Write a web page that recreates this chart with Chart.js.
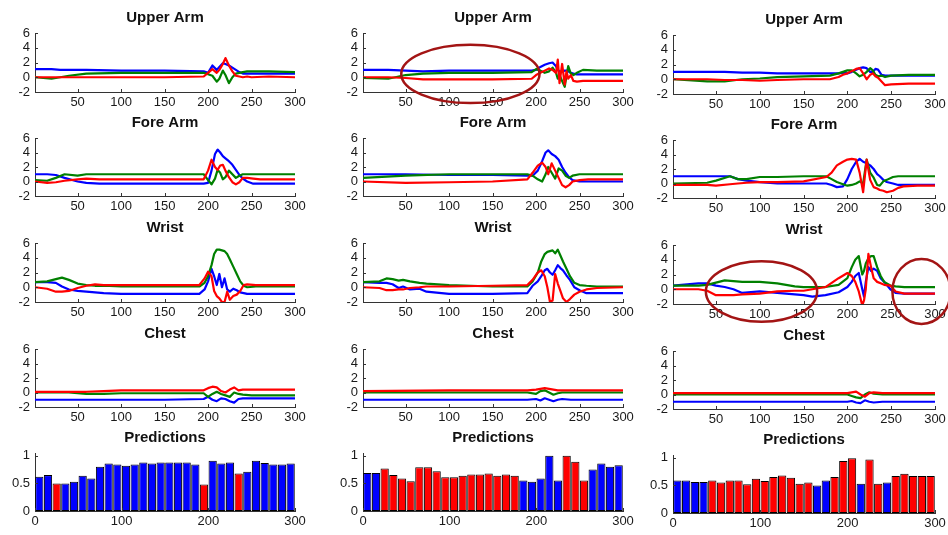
<!DOCTYPE html>
<html>
<head>
<meta charset="utf-8">
<script src="https://cdn.jsdelivr.net/npm/chart.js@4.4.0/dist/chart.umd.min.js"></script>
<style>
  html, body { margin: 0; padding: 0; background: #fff; overflow: hidden; }
  #fig { position: relative; width: 948px; height: 535px; }
  #fig canvas { position: absolute; }
</style>
</head>
<body>
<div id="fig"></div>
<script>
// ---- sensor traces: x = sample index, b/g/r = the three channels ----
// column 1
const ua1X = [1, 20, 30, 40, 60, 100, 150, 195, 200, 205, 210, 213, 217, 220, 224, 228, 232, 236, 240, 245, 250, 270, 300];
const ua1B = [1.1, 1.1, 1.0, 1.0, 1.0, 0.9, 0.9, 0.8, 0.6, 1.6, 1.0, 1.4, 1.9, 1.8, 1.6, 1.3, 1.0, 0.7, 0.5, 0.5, 0.5, 0.5, 0.5];
const ua1G = [0.0, -0.2, 0.0, 0.2, 0.5, 0.6, 0.6, 0.6, 0.4, 0.2, -0.6, -0.2, 0.9, 0.3, -0.8, 0.0, 0.5, 0.6, 0.7, 0.8, 0.8, 0.8, 0.7];
const ua1R = [0.0, 0.0, 0.0, 0.0, 0.0, 0.0, 0.0, 0.1, 0.6, 1.1, 0.6, 1.0, 1.8, 2.6, 1.6, 0.8, 0.2, 0.1, 0.0, 0.1, 0.0, 0.1, 0.0];

const fa1X = [1, 15, 25, 35, 50, 60, 75, 100, 150, 195, 200, 204, 208, 211, 214, 217, 220, 224, 228, 232, 236, 240, 245, 252, 260, 300];
const fa1B = [1.0, 1.0, 0.9, 0.5, 0.0, -0.2, -0.3, -0.3, -0.3, -0.3, -0.2, 1.5, 3.8, 4.4, 4.0, 3.5, 3.2, 2.8, 2.3, 1.6, 0.9, 0.4, 0.0, -0.3, -0.3, -0.3];
const fa1G = [0.2, 0.1, 0.5, 1.0, 0.8, 1.0, 1.0, 1.0, 1.0, 1.0, 0.2, -0.4, 0.4, 1.6, 1.2, 0.3, 0.6, 1.5, 1.0, 0.5, 0.8, 1.0, 1.0, 1.0, 1.0, 1.0];
const fa1R = [0.0, -0.2, -0.1, 0.1, 0.3, 0.4, 0.3, 0.3, 0.3, 0.3, 1.5, 3.0, 2.0, 1.6, 2.2, 2.3, 1.5, 0.6, -0.1, -0.4, -0.1, 0.5, 0.5, 0.4, 0.3, 0.3];

const wr1X = [1, 15, 25, 32, 40, 50, 60, 70, 80, 100, 150, 190, 196, 200, 204, 207, 210, 213, 216, 219, 222, 225, 229, 233, 237, 241, 245, 255, 300];
const wr1G = [0.7, 0.8, 1.1, 1.3, 1.0, 0.5, 0.3, 0.2, 0.2, 0.1, 0.1, 0.1, 0.6, 1.5, 3.0, 4.5, 5.1, 5.1, 5.0, 4.9, 4.5, 3.8, 2.8, 1.8, 0.8, 0.2, 0.0, 0.1, 0.1];
const wr1B = [0.7, 0.7, 0.6, 0.1, -0.3, -0.5, -0.6, -0.7, -0.8, -0.9, -0.9, -0.9, -0.3, 0.8, 2.5, 1.5, 0.3, 1.8, 0.0, 1.2, -0.3, -0.6, -0.2, -0.4, -0.7, -0.8, -0.9, -0.9, -0.9];
const wr1R = [0.0, -0.2, -0.6, -0.6, -0.5, -0.1, 0.2, 0.4, 0.3, 0.3, 0.3, 0.3, 1.2, 2.1, 1.5, -0.5, -1.2, -1.5, -2.0, -2.0, -0.6, -1.7, -1.2, -1.0, -0.5, 0.3, 0.4, 0.3, 0.3];

const ch1X = [1, 40, 60, 80, 100, 150, 195, 200, 205, 210, 215, 220, 225, 230, 235, 240, 250, 300];
const ch1R = [0.1, 0.1, 0.1, 0.2, 0.3, 0.3, 0.3, 0.6, 0.8, 0.7, 0.2, 0.0, 0.4, 0.7, 0.3, 0.4, 0.4, 0.4];
const ch1G = [0.0, 0.0, -0.2, -0.2, -0.1, -0.1, -0.1, -0.6, -0.2, 0.1, -0.2, -0.4, -0.6, 0.0, -0.2, -0.3, -0.4, -0.4];
const ch1B = [-1.0, -1.0, -1.0, -1.0, -1.0, -1.0, -0.9, -0.6, -1.0, -1.2, -0.8, -0.9, -1.2, -1.4, -0.9, -0.8, -0.8, -0.8];

// column 2
const ua2X = [1, 30, 50, 70, 100, 150, 195, 200, 205, 210, 215, 219, 223, 225, 227, 230, 233, 235, 237, 240, 243, 247, 254, 270, 300];
const ua2B = [1.0, 1.0, 0.9, 0.8, 0.9, 0.9, 0.9, 1.0, 1.4, 1.7, 1.9, 2.0, 1.5, 1.0, 0.8, 0.8, 0.9, 0.9, 0.8, 0.6, 0.5, 0.4, 0.4, 0.4, 0.4];
const ua2G = [-0.1, -0.2, 0.3, 0.5, 0.6, 0.6, 0.7, 1.1, 0.9, 0.6, 0.8, 1.3, 0.6, -0.2, 0.3, -0.5, -1.3, 0.2, 1.5, 0.5, 0.3, 0.6, 1.0, 0.9, 0.9];
const ua2R = [0.0, 0.0, -0.1, -0.3, -0.3, -0.3, -0.2, 0.3, 0.6, 0.9, 1.2, 1.0, 0.6, 2.4, -0.8, 1.8, -1.0, 0.8, -0.2, 0.3, -0.5, -0.6, -0.5, -0.5, -0.5];

const fa2X = [1, 50, 100, 150, 190, 196, 202, 207, 211, 214, 218, 222, 226, 230, 234, 238, 242, 250, 260, 300];
const fa2B = [1.0, 1.0, 0.9, 0.9, 0.8, 0.8, 1.5, 2.8, 4.0, 4.3, 3.8, 3.5, 3.0, 2.0, 1.2, 0.6, 0.2, 0.0, 0.0, 0.0];
const fa2G = [0.5, 0.8, 1.0, 1.0, 1.0, 0.8, 0.3, 0.0, 1.0, 2.0, 1.2, 0.4, 1.8, 1.5, 0.8, 0.5, 0.8, 1.0, 1.0, 1.0];
const fa2R = [0.0, -0.2, -0.1, 0.0, 0.3, 1.2, 2.2, 2.6, 2.0, 1.0, 2.5, 1.5, 0.5, -0.5, -0.8, -0.5, 0.0, 0.2, 0.3, 0.3];

const wr2X = [1, 20, 28, 35, 42, 47, 55, 66, 74, 100, 150, 190, 196, 202, 206, 210, 213, 216, 219, 222, 225, 228, 231, 235, 239, 244, 250, 258, 270, 300];
const wr2G = [0.7, 0.8, 1.2, 1.1, 0.9, 1.0, 0.8, 0.6, 0.5, 0.3, 0.1, 0.1, 0.8, 2.0, 3.5, 4.5, 4.8, 4.9, 5.0, 4.6, 5.1, 4.3, 3.5, 2.5, 1.5, 0.6, 0.3, 0.2, 0.1, 0.1];
const wr2B = [0.7, 0.6, 0.6, 0.4, -0.1, 0.1, -0.3, -0.2, -0.6, -0.9, -0.9, -0.8, 0.2, 0.8, 1.5, 2.3, 2.5, 2.0, 1.7, 2.3, 3.0, 2.6, 2.3, 1.6, 1.0, 0.0, -0.4, -0.8, -0.8, -0.8];
const wr2R = [0.0, -0.1, -0.4, -0.4, -0.3, -0.3, -0.1, 0.0, 0.1, 0.1, 0.2, 0.3, 1.0, 2.0, 2.3, 1.5, 0.0, -2.0, -1.8, 1.8, 0.5, -0.5, -1.5, -2.0, -1.6, -1.0, -0.6, -0.3, -0.1, 0.0];

const ch2X = [1, 100, 190, 200, 205, 210, 215, 220, 225, 230, 240, 250, 300];
const ch2R = [0.2, 0.3, 0.3, 0.4, 0.5, 0.6, 0.5, 0.4, 0.3, 0.3, 0.3, 0.3, 0.3];
const ch2G = [0.0, 0.0, 0.0, -0.2, 0.2, 0.3, 0.0, -0.3, -0.1, 0.0, 0.0, 0.0, 0.0];
const ch2B = [-1.0, -1.0, -1.0, -0.9, -1.1, -0.8, -1.0, -1.2, -1.0, -0.9, -1.0, -1.0, -1.0];

// column 3
const ua3X = [1, 40, 60, 80, 100, 120, 150, 180, 190, 195, 200, 205, 210, 214, 218, 222, 226, 229, 232, 235, 239, 243, 250, 270, 300];
const ua3B = [1.0, 1.0, 1.0, 0.9, 0.9, 0.8, 0.8, 0.8, 0.8, 0.9, 0.8, 1.0, 1.3, 1.5, 1.6, 1.5, 1.0, 1.0, 1.4, 1.3, 0.6, 0.5, 0.5, 0.5, 0.5];
const ua3G = [0.0, -0.3, -0.3, 0.0, 0.1, 0.3, 0.4, 0.5, 0.8, 1.0, 1.2, 1.2, 0.8, 0.4, 0.6, 1.0, 1.5, 1.2, 0.6, 0.4, 0.5, 0.3, 0.5, 0.6, 0.6];
const ua3R = [0.0, 0.0, -0.1, -0.1, -0.2, -0.1, 0.0, 0.0, 0.3, 0.6, 0.8, 1.1, 1.4, 1.5, 0.8, 0.0, 0.6, 0.8, 0.4, 0.2, -0.3, -0.8, -0.7, -0.6, -0.6];

const fa3X = [1, 40, 50, 66, 75, 85, 100, 120, 150, 176, 182, 188, 195, 200, 205, 210, 214, 218, 222, 226, 230, 234, 237, 241, 245, 252, 258, 264, 280, 300];
const fa3B = [1.0, 1.0, 1.0, 1.0, 0.6, 0.4, 0.2, 0.0, 0.0, 0.0, -0.2, -0.5, -0.4, 0.6, 2.0, 3.0, 3.4, 3.0, 2.8, 2.5, 2.0, 1.3, 1.0, 0.5, 0.2, 0.0, -0.2, -0.2, -0.2, -0.2];
const fa3G = [0.0, 0.1, 0.4, 1.0, 0.6, 0.6, 0.9, 0.9, 1.0, 1.0, 0.6, 0.2, -0.1, -0.3, -0.2, 0.0, 0.3, 0.0, 3.3, 1.5, 0.8, -0.2, -0.3, 0.3, 0.5, 0.9, 1.0, 1.0, 1.0, 1.0];
const fa3R = [-0.2, -0.2, -0.3, -0.1, 0.0, 0.1, 0.2, 0.2, 0.3, 0.9, 1.5, 2.5, 3.0, 3.3, 3.4, 3.3, 1.5, -1.2, 3.3, 0.5, -0.5, -0.7, -0.9, -1.0, -1.2, -1.0, -0.6, -0.4, -0.3, -0.3];

const wr3X = [1, 30, 40, 50, 60, 70, 80, 100, 120, 140, 150, 160, 175, 190, 200, 205, 209, 213, 217, 219, 221, 224, 227, 230, 234, 238, 242, 249, 255, 265, 300];
const wr3G = [0.5, 0.5, 0.6, 0.9, 1.2, 1.1, 1.0, 1.0, 0.8, 0.4, 0.3, 0.3, 0.3, 0.6, 1.5, 3.0, 4.0, 4.5, 2.0, 2.5, 3.5, 4.2, 4.5, 4.5, 3.0, 1.8, 1.0, 0.5, 0.4, 0.3, 0.3];
const wr3B = [0.5, 0.8, 0.8, 0.5, 0.3, 0.0, -0.5, -0.3, -0.5, -0.7, -0.8, -1.0, -0.8, -0.4, 0.3, 1.0, 1.8, 2.2, 0.0, -1.0, 1.0, 3.0, 2.5, 2.8, 2.5, 1.5, 1.0, 0.0, -0.5, -0.6, -0.6];
const wr3R = [0.0, 0.0, -0.2, -0.8, -0.8, -0.8, -0.7, -0.6, -0.3, -0.2, -0.2, 0.0, 0.3, 1.5, 2.2, 1.8, 1.0, -0.3, -2.2, -1.5, 0.0, 4.8, 3.0, 1.5, 1.0, 0.8, 0.6, 0.5, -0.3, -0.6, -0.6];

const ch3X = [1, 100, 190, 200, 205, 210, 215, 220, 225, 230, 240, 250, 300];
const ch3R = [0.2, 0.2, 0.2, 0.2, 0.3, 0.4, 0.0, -0.3, 0.2, 0.3, 0.2, 0.2, 0.2];
const ch3G = [0.0, 0.0, 0.0, 0.0, -0.2, -0.4, -0.5, 0.0, 0.3, 0.1, 0.0, 0.0, 0.0];
const ch3B = [-1.0, -1.0, -1.0, -1.0, -0.9, -1.1, -1.2, -0.8, -1.0, -1.1, -1.0, -1.0, -1.0];

// ---- predictions: bin centres, confidence, class (0 = blue, 1 = red) ----
const predX = [5, 15, 25, 35, 45, 55, 65, 75, 85, 95, 105, 115, 125, 135, 145, 155, 165, 175, 185, 195, 205, 215, 225, 235, 245, 255, 265, 275, 285, 295];
const pred1 = [0.62, 0.65, 0.50, 0.50, 0.53, 0.64, 0.59, 0.80, 0.86, 0.84, 0.82, 0.84, 0.88, 0.86, 0.88, 0.88, 0.88, 0.88, 0.84, 0.48, 0.91, 0.86, 0.88, 0.68, 0.71, 0.91, 0.87, 0.84, 0.84, 0.86];
const cls1  = [0, 0, 1, 0, 0, 0, 0, 0, 0, 0, 0, 0, 0, 0, 0, 0, 0, 0, 0, 1, 0, 0, 0, 1, 0, 0, 0, 0, 0, 0];
const pred2 = [0.69, 0.69, 0.77, 0.65, 0.59, 0.54, 0.79, 0.79, 0.72, 0.61, 0.61, 0.64, 0.66, 0.66, 0.68, 0.64, 0.66, 0.64, 0.55, 0.53, 0.59, 1.00, 0.55, 1.00, 0.89, 0.55, 0.75, 0.86, 0.80, 0.83];
const cls2  = [0, 0, 1, 1, 1, 1, 1, 1, 1, 1, 1, 1, 1, 1, 1, 1, 1, 1, 0, 0, 0, 0, 0, 1, 1, 1, 0, 0, 0, 0];
const pred3 = [0.59, 0.59, 0.56, 0.56, 0.59, 0.55, 0.59, 0.59, 0.52, 0.62, 0.58, 0.65, 0.68, 0.64, 0.53, 0.55, 0.50, 0.59, 0.65, 0.94, 0.99, 0.53, 0.97, 0.53, 0.55, 0.67, 0.71, 0.67, 0.67, 0.67];
const cls3  = [0, 0, 0, 0, 1, 1, 1, 1, 1, 1, 1, 1, 1, 1, 1, 1, 0, 0, 1, 1, 1, 0, 1, 1, 0, 1, 1, 1, 1, 1];

// ---- ticks ----
const lineXTicks = [50, 100, 150, 200, 250, 300];
const lineYTicks = [-2, 0, 2, 4, 6];
const barXTicks = [0, 100, 200, 300];
const barYTicks = [0, 0.5, 1];

const BLUE = '#0000ff', GREEN = '#008000', RED = '#ff0000';

// ---- page layout (plot-area edges in page pixels) ----
const colL = [35, 363, 673], colR = [295, 623, 935], colDy = [0, 0, 2];
const rowTop = [33, 138, 243, 349, 453], rowBot = [92, 196, 302, 407, 511];
const YW = 34, TH = 23, XH = 22, PR = 16, PB = 8;

Chart.defaults.font.family = '"Liberation Sans", Arial, Helvetica, sans-serif';
Chart.defaults.font.size = 13;
Chart.defaults.color = '#1a1a1a';

// MATLAB-style ticks pointing into the axes
const inwardTicks = {
  id: 'inwardTicks',
  afterDraw(chart) {
    const {ctx, chartArea: a, scales: {x, y}} = chart;
    ctx.save();
    ctx.strokeStyle = '#333';
    ctx.lineWidth = 1;
    ctx.beginPath();
    x.ticks.forEach(t => {
      const p = Math.round(x.getPixelForValue(t.value)) + 0.5;
      ctx.moveTo(p, a.bottom); ctx.lineTo(p, a.bottom - 3);
    });
    y.ticks.forEach(t => {
      const p = Math.round(y.getPixelForValue(t.value)) + 0.5;
      ctx.moveTo(a.left, p); ctx.lineTo(a.left + 3, p);
    });
    ctx.stroke();
    ctx.restore();
  }
};

// hand-drawn red rings, given in data units
const rings = {
  id: 'rings',
  afterDraw(chart, args, opts) {
    const list = opts.list || [];
    if (!list.length) return;
    const {ctx, scales: {x, y}} = chart;
    ctx.save();
    ctx.strokeStyle = '#a31414';
    ctx.lineWidth = 2.5;
    list.forEach(e => {
      const cx = x.getPixelForValue(e.cx), cy = y.getPixelForValue(e.cy);
      const rx = Math.abs(x.getPixelForValue(e.cx + e.rx) - cx);
      const ry = Math.abs(y.getPixelForValue(e.cy + e.ry) - cy);
      ctx.beginPath();
      ctx.ellipse(cx, cy, rx, ry, 0, 0, Math.PI * 2);
      ctx.stroke();
    });
    ctx.restore();
  }
};

const fig = document.getElementById('fig');

function makeCanvas(col, row) {
  const L = colL[col], R = colR[col];
  const T = rowTop[row] + colDy[col], B = rowBot[row] + colDy[col];
  const c = document.createElement('canvas');
  c.width = R - L + YW + PR;
  c.height = B - T + TH + XH + PB;
  c.style.left = (L - YW) + 'px';
  c.style.top = (T - TH) + 'px';
  fig.appendChild(c);
  return c;
}

function axes(xMin, xMax, xTicks, yMin, yMax, yTicks) {
  const common = {
    type: 'linear',
    grid: {display: false, drawTicks: false},
    border: {display: true, color: '#333', width: 1}
  };
  return {
    x: Object.assign({}, common, {
      min: xMin, max: xMax, offset: false,
      ticks: {padding: 3, autoSkip: false, maxRotation: 0, callback: v => String(v)},
      afterBuildTicks: s => { s.ticks = xTicks.map(v => ({value: v})); },
      afterFit: s => { s.height = XH; }
    }),
    y: Object.assign({}, common, {
      min: yMin, max: yMax,
      ticks: {padding: 5, autoSkip: false, callback: v => String(v)},
      afterBuildTicks: s => { s.ticks = yTicks.map(v => ({value: v})); },
      afterFit: s => { s.width = YW; }
    })
  };
}

function plugins(title, ringList) {
  return {
    legend: {display: false},
    tooltip: {enabled: false},
    title: {
      display: true, text: title, fullSize: false, color: '#111',
      font: {size: 15, weight: 'bold', lineHeight: '16px'},
      padding: {top: 0, bottom: TH - 16}
    },
    rings: {list: ringList || []}
  };
}

function pts(xs, ys) { return xs.map((x, i) => ({x: x, y: ys[i]})); }

function lineSet(data, color) {
  return {
    data: data, borderColor: color, borderWidth: 2.2, pointRadius: 0, tension: 0, fill: false,
    borderJoinStyle: 'round', borderCapStyle: 'round'
  };
}

function tracePanel(col, row, title, xs, b, g, r, ringList) {
  new Chart(makeCanvas(col, row), {
    type: 'line',
    data: {
      // first dataset is drawn on top: red over green over blue
      datasets: [lineSet(pts(xs, r), RED), lineSet(pts(xs, g), GREEN), lineSet(pts(xs, b), BLUE)]
    },
    options: {
      responsive: false, animation: false, devicePixelRatio: 1,
      layout: {padding: {left: 0, top: 0, right: PR, bottom: PB}},
      scales: axes(1, 300, lineXTicks, -2, 6, lineYTicks),
      plugins: plugins(title, ringList)
    },
    plugins: [inwardTicks, rings]
  });
}

function predPanel(col, vals, cls) {
  const colors = cls.map(c => (c ? RED : BLUE));
  new Chart(makeCanvas(col, 4), {
    type: 'bar',
    data: {
      datasets: [{
        data: pts(predX, vals),
        backgroundColor: colors,
        borderColor: '#000',
        borderWidth: 1,
        borderSkipped: false,
        barPercentage: 0.95,
        categoryPercentage: 1
      }]
    },
    options: {
      responsive: false, animation: false, devicePixelRatio: 1,
      layout: {padding: {left: 0, top: 0, right: PR, bottom: PB}},
      scales: axes(0, 300, barXTicks, 0, 1.05, barYTicks),
      plugins: plugins('Predictions')
    },
    plugins: [inwardTicks]
  });
}

tracePanel(0, 0, 'Upper Arm', ua1X, ua1B, ua1G, ua1R);
tracePanel(0, 1, 'Fore Arm', fa1X, fa1B, fa1G, fa1R);
tracePanel(0, 2, 'Wrist', wr1X, wr1B, wr1G, wr1R);
tracePanel(0, 3, 'Chest', ch1X, ch1B, ch1G, ch1R);
predPanel(0, pred1, cls1);

tracePanel(1, 0, 'Upper Arm', ua2X, ua2B, ua2G, ua2R, [{cx: 124.5, cy: 0.45, rx: 79.5, ry: 3.95}]);
tracePanel(1, 1, 'Fore Arm', fa2X, fa2B, fa2G, fa2R);
tracePanel(1, 2, 'Wrist', wr2X, wr2B, wr2G, wr2R);
tracePanel(1, 3, 'Chest', ch2X, ch2B, ch2G, ch2R);
predPanel(1, pred2, cls2);

tracePanel(2, 0, 'Upper Arm', ua3X, ua3B, ua3G, ua3R);
tracePanel(2, 1, 'Fore Arm', fa3X, fa3B, fa3G, fa3R);
tracePanel(2, 2, 'Wrist', wr3X, wr3B, wr3G, wr3R,
  [{cx: 102, cy: -0.3, rx: 63.5, ry: 4.1}, {cx: 284.6, cy: -0.3, rx: 33.2, ry: 4.4}]);
tracePanel(2, 3, 'Chest', ch3X, ch3B, ch3G, ch3R);
predPanel(2, pred3, cls3);
</script>
</body>
</html>
